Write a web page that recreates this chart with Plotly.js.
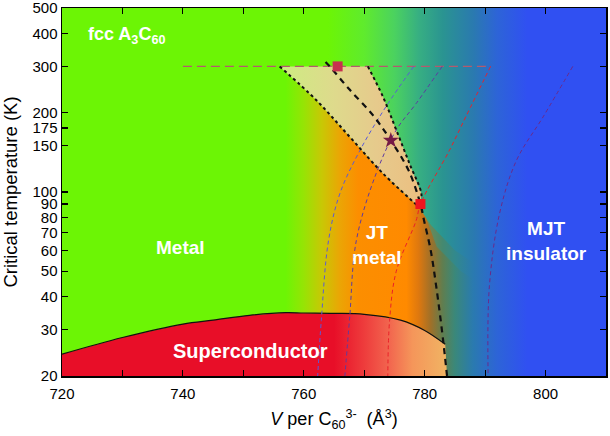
<!DOCTYPE html>
<html>
<head>
<meta charset="utf-8">
<script src="https://cdn.plot.ly/plotly-3.0.1.min.js"></script>
<style>html,body{margin:0;padding:0;background:#fff;}#chart{width:610px;height:436px;}</style>
</head>
<body>
<div id="chart"></div>
<script>
// ---------- data ----------
const yTickVals = [20, 30, 40, 50, 60, 70, 80, 90, 100, 150, 175, 200, 300, 400, 500];
const yTickText = ['20', '30', '40', '50', '60', '70', '80', '90', '100', '150', '175', '200', '300', '400', '500'];

// superconducting dome (upper boundary)
const domeV = [720, 730, 740, 745, 751, 757, 760, 765, 770, 776, 780, 783.4];
const domeT = [24.2, 28.0, 31.5, 32.6, 34.0, 34.8, 34.7, 34.6, 34.3, 32.6, 29.8, 26.4];

// black dashed boundary (metal / JT metal crossover)
const crossV = [763.6, 764.3, 767.5, 771.5, 774.4, 777.4, 779.3, 779.9, 781.0, 781.9, 783.0, 783.7];
const crossT = [312, 300, 246, 195, 157, 120, 90, 78, 60, 44, 28, 20];

// dotted lines bounding the shaded wedge
const dotLeftV = [756.0, 762.1, 767.6, 773.1, 779.0];
const dotLeftT = [300, 223, 162, 117.6, 88];
const dotRightV = [770.6, 773.1, 775.3, 777.5, 779.45, 779.3];
const dotRightT = [300, 230, 172, 128, 98.7, 90];

// lower edge of the high-temperature (green/teal) colour region, right of the red square
const hiEdgeV = [781, 785, 790, 810];
const hiEdgeT = [75, 60, 50, 50];
// lower edge of the transition band below it
const loEdgeV = [780.2, 782, 786, 791, 810];
const loEdgeT = [80, 62, 50, 42, 42];

// thermal-expansion curves (coloured thin dashed)
const curve1V = [778.2, 773.6, 769.3, 766.0, 764.1, 762.9, 762.3];
const curve1T = [300, 211, 144, 99, 65.5, 32.6, 20];
const curve2V = [782.9, 778.6, 775.3, 772.0, 768.7, 767.6, 766.8];
const curve2T = [300, 217, 172, 118, 65.5, 33.5, 20];
const curve3V = [790.9, 786.8, 784.1, 779.3, 778.6, 775.3, 774.2, 773.9];
const curve3T = [300, 193, 144, 90, 78, 50, 32.6, 20];
const curve4V = [804.5, 799.6, 795.2, 792.4, 790.7, 790.5];
const curve4T = [300, 193, 132, 83, 43.6, 20];

// room-temperature line
const rtV = [740, 790.9];
const rtT = [300, 300];

// markers
const sqTopV = [765.6], sqTopT = [300];
const starV = [774.4], starT = [157];
const sqRedV = [779.3], sqRedT = [90];

// ---------- styles ----------
const GREEN = 'rgb(108,245,5)', BLUE = 'rgb(48,80,242)';
const baseStops = [[720, GREEN], [757, GREEN], [760, 'rgb(150,228,5)'], [763, 'rgb(200,200,5)'],
  [766, 'rgb(235,165,5)'], [769, 'rgb(252,142,0)'], [777, 'rgb(255,138,0)'], [779, 'rgb(222,120,15)'],
  [781, 'rgb(160,112,40)'], [783, 'rgb(95,126,80)'], [785, 'rgb(58,136,122)'], [788, 'rgb(42,122,175)'],
  [792, 'rgb(45,100,215)'], [797, BLUE], [810, BLUE]];
const midStops = [[720, GREEN], [777, 'rgb(150,160,70)'], [779, 'rgb(138,148,72)'], [781, 'rgb(104,137,89)'],
  [783, 'rgb(68,137,112)'], [785, 'rgb(50,137,140)'], [788, 'rgb(42,122,175)'], [792, 'rgb(45,100,215)'],
  [797, BLUE], [810, BLUE]];
const upperStops = [[720, GREEN], [764, GREEN], [770, 'rgb(95,235,45)'], [775, 'rgb(75,210,95)'],
  [779, 'rgb(55,175,130)'], [783, 'rgb(42,148,145)'], [788, 'rgb(42,122,175)'], [792, 'rgb(45,100,215)'],
  [797, BLUE], [810, BLUE]];
const wedgeStops = [[756, 'rgb(205,236,130)'], [765, 'rgb(222,218,140)'], [772, 'rgb(230,202,140)'], [780, 'rgb(236,190,128)']];
const domeStops = [[720, 'rgb(232,14,40)'], [765, 'rgb(232,14,40)'], [770, 'rgb(238,60,60)'], [774, 'rgb(242,100,78)'],
  [778, 'rgb(245,150,90)'], [784, 'rgb(240,182,100)']];

function grad(stops) {
  const a = stops[0][0], b = stops[stops.length - 1][0];
  return {type: 'horizontal', start: a, stop: b,
    colorscale: stops.map(s => [(s[0] - a) / (b - a), s[1]])};
}
function poly(xs, ys, stops) {
  return {x: xs, y: ys, type: 'scatter', mode: 'lines', fill: 'toself',
    line: {width: 0}, fillgradient: grad(stops), hoverinfo: 'skip', showlegend: false};
}
function line(xs, ys, color, width, dash, shape) {
  return {x: xs, y: ys, type: 'scatter', mode: 'lines',
    line: {color: color, width: width, dash: dash, shape: shape || 'spline'}, hoverinfo: 'skip', showlegend: false};
}
function marker(xs, ys, symbol, size, color) {
  return {x: xs, y: ys, type: 'scatter', mode: 'markers',
    marker: {symbol: symbol, size: size, color: color, line: {width: 0}}, hoverinfo: 'skip', showlegend: false};
}

const xMin = 720, xMax = 810, yMin = 20, yMax = 500;

const baseX = [xMin, xMax, xMax, xMin], baseY = [yMin, yMin, yMax, yMax];
const bandX = [sqRedV[0]].concat(hiEdgeV).concat(loEdgeV.slice().reverse());
const bandY = [sqRedT[0]].concat(hiEdgeT).concat(loEdgeT.slice().reverse());
const upX = [xMin, xMax].concat(hiEdgeV.slice().reverse()).concat(dotLeftV.slice().reverse()).concat([xMin]);
const upY = [yMax, yMax].concat(hiEdgeT.slice().reverse()).concat(dotLeftT.slice().reverse()).concat([rtT[0]]);
const wedgeX = dotLeftV.concat(dotRightV.slice().reverse());
const wedgeY = dotLeftT.concat(dotRightT.slice().reverse());
const domeX = domeV.concat([crossV[crossV.length - 1], xMin]);
const domeY = domeT.concat([yMin, yMin]);

const traces = [
  poly(baseX, baseY, baseStops),
  poly(bandX, bandY, midStops),
  poly(upX, upY, upperStops),
  poly(wedgeX, wedgeY, wedgeStops),
  poly(domeX, domeY, domeStops),
  line(domeV, domeT, '#111', 1.2, 'solid'),
  line(rtV, rtT, '#b45a6e', 1.3, '9px,5px', 'linear'),
  line(curve1V, curve1T, '#5a5ad8', 1, '4px,3px'),
  line(curve2V, curve2T, '#5e3aa0', 1, '4px,3px'),
  line(curve3V, curve3T, '#ea2028', 1, '4px,3px'),
  line(curve4V, curve4T, '#6a2a8a', 1, '4px,3px'),
  line(dotLeftV, dotLeftT, '#111', 2, 'dot'),
  line(dotRightV, dotRightT, '#111', 2, 'dot'),
  line(crossV, crossT, '#111', 2.2, '6px,5px'),
  marker(sqTopV, sqTopT, 'square', 10, '#c8324f'),
  marker(starV, starT, 'star', 12, '#761a45'),
  marker(sqRedV, sqRedT, 'square', 10, '#f0141e')
];

const FONT = 'Liberation Sans, Arial, sans-serif';
function label(text, x, y, size, xanchor) {
  return {text: text, xref: 'paper', yref: 'paper', x: x, y: y, showarrow: false,
    xanchor: xanchor || 'center', yanchor: 'middle', align: 'center',
    font: {family: FONT, size: size, color: '#ffffff'}};
}

const layout = {
  width: 610, height: 436,
  margin: {l: 62, r: 4, t: 8, b: 60},
  paper_bgcolor: '#ffffff', plot_bgcolor: '#ffffff',
  font: {family: FONT, color: '#000'},
  showlegend: false, hovermode: false,
  xaxis: {
    range: [xMin, xMax], tick0: 720, dtick: 20,
    ticks: 'inside', ticklen: 6, tickwidth: 1.2, tickcolor: '#000',
    minor: {dtick: 10, ticks: 'inside', ticklen: 6, tickwidth: 1.2, tickcolor: '#000'},
    showline: true, linecolor: '#000', linewidth: 1.5, mirror: 'ticks',
    showgrid: false, zeroline: false, tickfont: {size: 15, family: FONT}, ticklabelstandoff: 3,
    ticklabeloverflow: 'allow',
    title: {text: '<i>V</i> per C<sub>60</sub><sup>3-</sup>  (Å<sup>3</sup>)', font: {size: 18, family: FONT}, standoff: 12}
  },
  yaxis: {
    type: 'log', range: [Math.log10(19.999), Math.log10(500.02)],
    tickvals: yTickVals, ticktext: yTickText,
    ticks: 'inside', ticklen: 6, tickwidth: 1.2, tickcolor: '#000',
    showline: true, linecolor: '#000', linewidth: 1.5, mirror: 'ticks',
    showgrid: false, zeroline: false, tickfont: {size: 15, family: FONT},
    ticklabeloverflow: 'allow',
    title: {text: 'Critical temperature (K)', font: {size: 18.5, family: FONT}, standoff: 10}
  },
  annotations: [
    label('<b>fcc A<sub>3</sub>C<sub>60</sub></b>', 0.045, 0.925, 18, 'left'),
    label('<b>Metal</b>', 0.217, 0.348, 19),
    label('<b>JT<br>metal</b>', 0.579, 0.356, 19),
    label('<b>MJT<br>insulator</b>', 0.8915, 0.367, 19),
    label('<b>Superconductor</b>', 0.347, 0.068, 20)
  ]
};

Plotly.newPlot('chart', traces, layout, {staticPlot: true, displayModeBar: false});
</script>
</body>
</html>
